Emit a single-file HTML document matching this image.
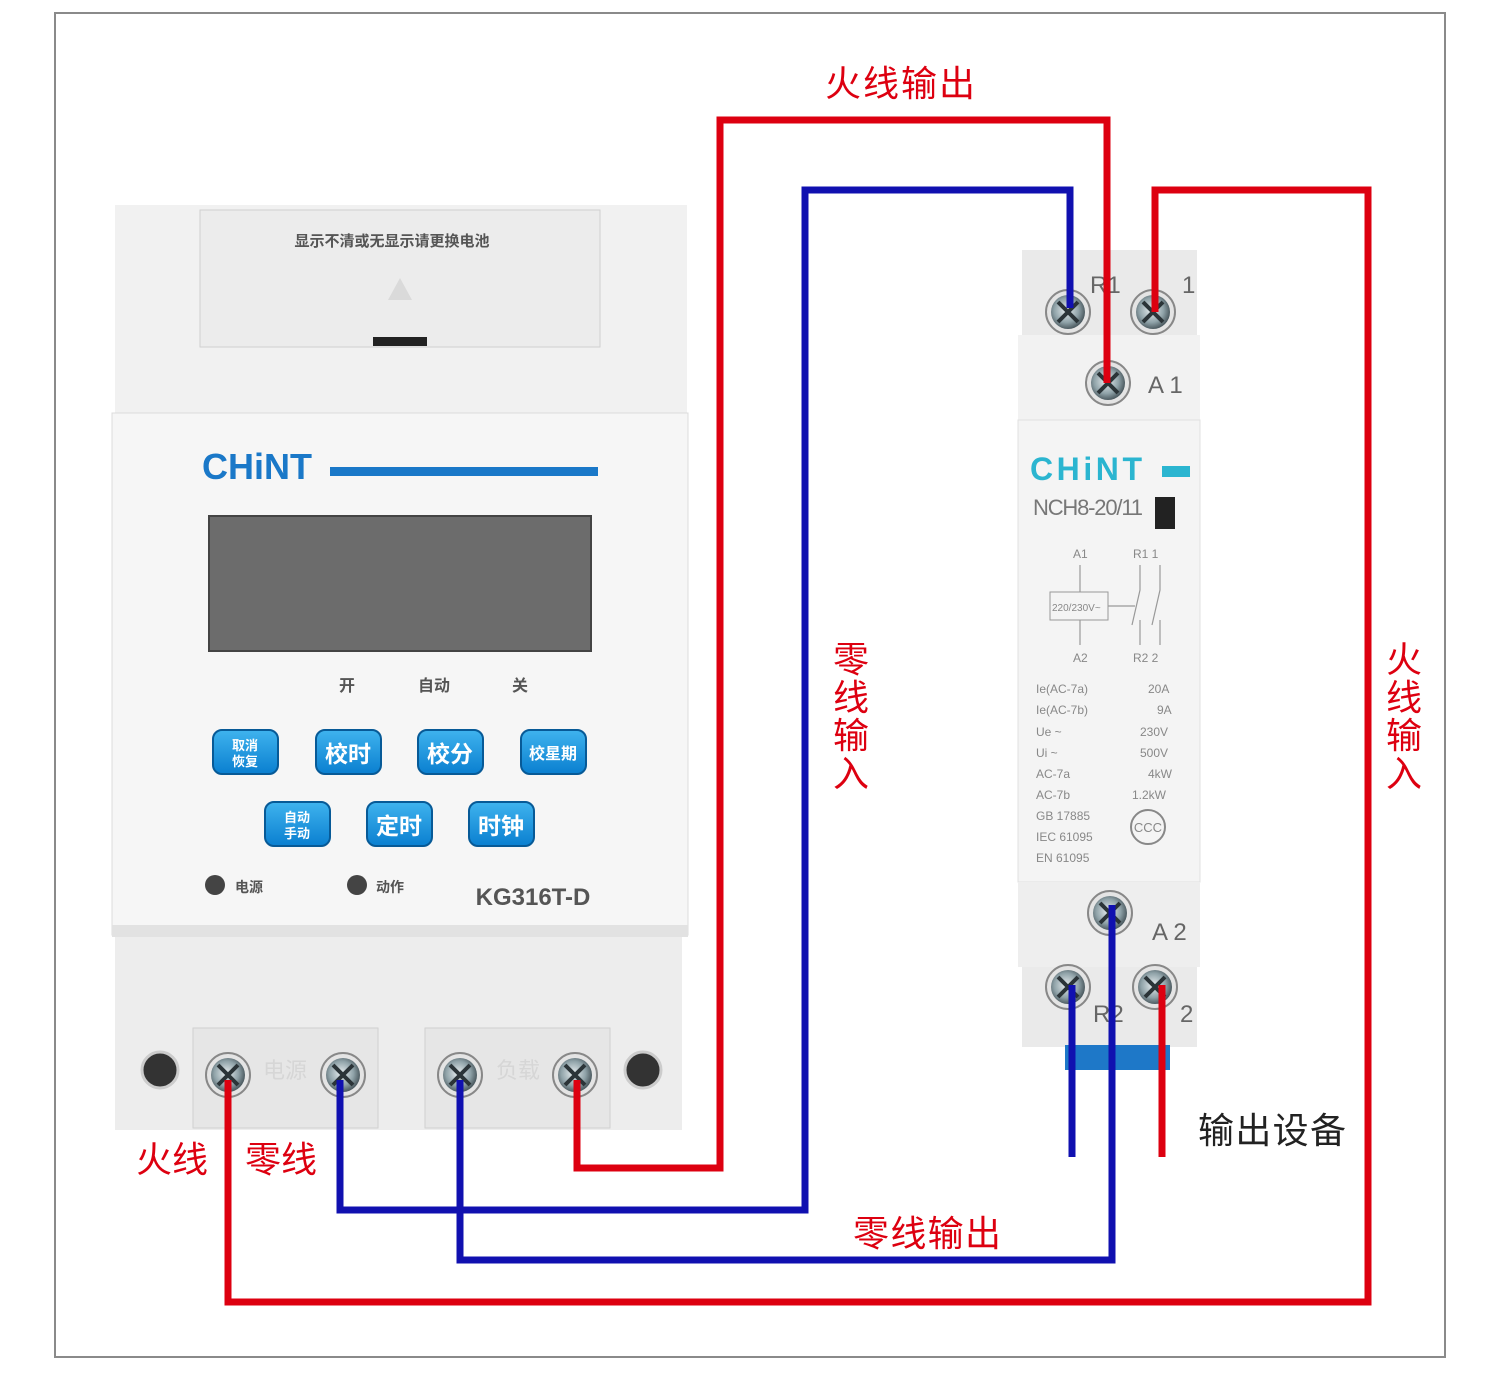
<!DOCTYPE html>
<html><head><meta charset="utf-8"><style>
html,body{margin:0;padding:0;background:#fff;}
svg{display:block}
text{font-family:"Liberation Sans","Noto Sans CJK SC",sans-serif;}
</style></head><body>
<svg width="1500" height="1397" viewBox="0 0 1500 1397" xmlns="http://www.w3.org/2000/svg">
<defs>
<radialGradient id="scr" cx="0.45" cy="0.45" r="0.6"><stop offset="0" stop-color="#e8eef0"/><stop offset="0.6" stop-color="#8fa2a8"/><stop offset="1" stop-color="#3d4a50"/></radialGradient>
<linearGradient id="btn" x1="0" y1="0" x2="0" y2="1"><stop offset="0" stop-color="#3fb3ee"/><stop offset="1" stop-color="#0a7fd0"/></linearGradient>
<g id="screw"><circle r="22" fill="#e4e4e4" stroke="#888" stroke-width="2"/><circle r="17" fill="url(#scr)"/><path d="M-10 -10 L10 10 M10 -10 L-10 10" stroke="#2b3438" stroke-width="4"/></g>
</defs>
<rect x="0" y="0" width="1500" height="1397" fill="#fff"/>
<rect x="55" y="13" width="1390" height="1344" fill="none" stroke="#8a8a8a" stroke-width="2"/>

<!-- timer device -->
<rect x="115" y="205" width="572" height="210" fill="#f1f1f1"/>
<rect x="200" y="210" width="400" height="137" fill="#ececec" stroke="#d0d0d0"/>
<text x="392" y="246" font-size="15" fill="#555" text-anchor="middle" font-weight="bold">显示不清或无显示请更换电池</text>
<path d="M400 278 L388 300 L412 300 Z" fill="#dadada"/>
<rect x="373" y="337" width="54" height="9" fill="#222"/>
<rect x="115" y="935" width="567" height="195" fill="#ededed"/>
<rect x="112" y="413" width="576" height="522" fill="#f6f6f6" stroke="#dcdcdc"/>
<rect x="112" y="925" width="576" height="12" fill="#e2e2e2"/>
<text x="202" y="479" font-size="36" font-weight="bold" fill="#1a78c8">CHiNT</text>
<rect x="330" y="467" width="268" height="9" fill="#1a78c8"/>
<rect x="209" y="516" width="382" height="135" fill="#6c6c6c" stroke="#444" stroke-width="2"/>
<g font-size="16" fill="#555" text-anchor="middle" font-weight="bold">
<text x="347" y="691">开</text><text x="434" y="691">自动</text><text x="520" y="691">关</text>
</g>
<g fill="url(#btn)" stroke="#075a97" stroke-width="2">
<rect x="213" y="730" width="65" height="44" rx="9"/><rect x="316" y="730" width="65" height="44" rx="9"/>
<rect x="418" y="730" width="65" height="44" rx="9"/><rect x="521" y="730" width="65" height="44" rx="9"/>
<rect x="265" y="802" width="65" height="44" rx="9"/><rect x="367" y="802" width="65" height="44" rx="9"/>
<rect x="469" y="802" width="65" height="44" rx="9"/>
</g>
<g fill="#fff" font-weight="bold" text-anchor="middle">
<text x="245" y="750" font-size="13">取消</text><text x="245" y="766" font-size="13">恢复</text>
<text x="348" y="762" font-size="23">校时</text><text x="450" y="762" font-size="23">校分</text>
<text x="553" y="759" font-size="16">校星期</text>
<text x="297" y="822" font-size="13">自动</text><text x="297" y="838" font-size="13">手动</text>
<text x="399" y="834" font-size="23">定时</text><text x="501" y="834" font-size="23">时钟</text>
</g>
<circle cx="215" cy="885" r="10" fill="#444"/><circle cx="357" cy="885" r="10" fill="#444"/>
<text x="235" y="892" font-size="14" fill="#555" font-weight="bold">电源</text>
<text x="376" y="892" font-size="14" fill="#555" font-weight="bold">动作</text>
<text x="533" y="905" font-size="24" font-weight="bold" fill="#555" text-anchor="middle">KG316T-D</text>
<rect x="193" y="1028" width="185" height="100" fill="#e6e6e6" stroke="#d0d0d0"/>
<rect x="425" y="1028" width="185" height="100" fill="#e6e6e6" stroke="#d0d0d0"/>
<text x="285" y="1078" font-size="22" fill="#d6d6d6" text-anchor="middle">电源</text>
<text x="518" y="1078" font-size="22" fill="#d6d6d6" text-anchor="middle">负载</text>
<circle cx="160" cy="1070" r="18" fill="#333" stroke="#ccc" stroke-width="3"/>
<circle cx="643" cy="1070" r="18" fill="#333" stroke="#ccc" stroke-width="3"/>
<use href="#screw" x="228" y="1075"/><use href="#screw" x="343" y="1075"/>
<use href="#screw" x="460" y="1075"/><use href="#screw" x="575" y="1075"/>

<!-- contactor -->
<rect x="1022" y="250" width="175" height="85" fill="#eaeaea"/>
<rect x="1018" y="335" width="182" height="85" fill="#f2f2f2"/>
<rect x="1018" y="420" width="182" height="462" fill="#f4f4f4" stroke="#e0e0e0"/>
<rect x="1018" y="882" width="182" height="85" fill="#eeeeee"/>
<rect x="1022" y="967" width="175" height="80" fill="#eaeaea"/>
<rect x="1065" y="1045" width="105" height="25" fill="#1e78c8"/>
<text x="1030" y="480" font-size="32" font-weight="bold" fill="#2bb5d0" textLength="112">CHiNT</text>
<rect x="1162" y="466" width="28" height="11" fill="#2bb5d0"/>
<text x="1033" y="515" font-size="22" fill="#777" textLength="110" font-family="Liberation Sans Narrow, Liberation Sans, sans-serif">NCH8-20/11</text>
<rect x="1155" y="497" width="20" height="32" fill="#222"/>
<g stroke="#999" stroke-width="1.2" fill="none">
<path d="M1080 565 V592 M1080 620 V645 M1108 606 H1135"/>
<path d="M1140 565 V590 L1132 625 M1140 620 V645 M1160 565 V590 L1152 625 M1160 620 V645"/>
</g>
<g font-size="12" fill="#888" font-family="Liberation Mono">
<text x="1073" y="558">A1</text><text x="1133" y="558">R1 1</text>
<text x="1073" y="662">A2</text><text x="1133" y="662">R2 2</text>
<rect x="1050" y="592" width="58" height="28" fill="none" stroke="#999"/>
<text x="1052" y="611" font-size="10">220/230V~</text>
<text x="1036" y="693">Ie(AC-7a)</text><text x="1148" y="693">20A</text>
<text x="1036" y="714">Ie(AC-7b)</text><text x="1157" y="714">9A</text>
<text x="1036" y="736">Ue ~</text><text x="1140" y="736">230V</text>
<text x="1036" y="757">Ui ~</text><text x="1140" y="757">500V</text>
<text x="1036" y="778">AC-7a</text><text x="1148" y="778">4kW</text>
<text x="1036" y="799">AC-7b</text><text x="1132" y="799">1.2kW</text>
<text x="1036" y="820">GB 17885</text><text x="1036" y="841">IEC 61095</text><text x="1036" y="862">EN 61095</text>
</g>
<circle cx="1148" cy="827" r="17" fill="none" stroke="#888" stroke-width="2"/>
<text x="1148" y="832" font-size="13" fill="#888" text-anchor="middle">CCC</text>
<g font-size="24" fill="#666"><text x="1090" y="293">R1</text><text x="1182" y="293">1</text>
<text x="1148" y="393">A 1</text><text x="1152" y="940">A 2</text>
<text x="1093" y="1022">R2</text><text x="1180" y="1022">2</text></g>
<use href="#screw" x="1068" y="312"/><use href="#screw" x="1153" y="312"/>
<use href="#screw" x="1108" y="383"/><use href="#screw" x="1110" y="913"/>
<use href="#screw" x="1068" y="987"/><use href="#screw" x="1155" y="987"/>

<!-- wires -->
<g fill="none" stroke-width="7" stroke-linejoin="miter">
<polyline stroke="#dd0010" points="577,1080 577,1168 720,1168 720,120 1107,120 1107,383"/>
<polyline stroke="#1010b0" points="340,1080 340,1210 805,1210 805,190 1070,190 1070,308"/>
<polyline stroke="#1010b0" points="460,1080 460,1260 1112,1260 1112,905"/>
<polyline stroke="#dd0010" points="228,1080 228,1302 1368,1302 1368,190 1155,190 1155,312"/>
<polyline stroke="#1010b0" points="1072,985 1072,1157"/>
<polyline stroke="#dd0010" points="1162,985 1162,1157"/>
</g>

<g fill="#dd0010" font-size="36" font-family="Liberation Sans,Noto Sans CJK SC,sans-serif">
<text x="825" y="96" textLength="150">火线输出</text>
<text x="853" y="1246" textLength="148">零线输出</text>
<text x="136" y="1172">火线</text><text x="245" y="1172">零线</text>
<text x="833" y="672">零</text><text x="833" y="710">线</text><text x="833" y="748">输</text><text x="833" y="786">入</text>
<text x="1386" y="672">火</text><text x="1386" y="710">线</text><text x="1386" y="748">输</text><text x="1386" y="786">入</text>
</g>
<text x="1198" y="1143" font-size="36" fill="#222" textLength="148">输出设备</text>
</svg>
</body></html>
